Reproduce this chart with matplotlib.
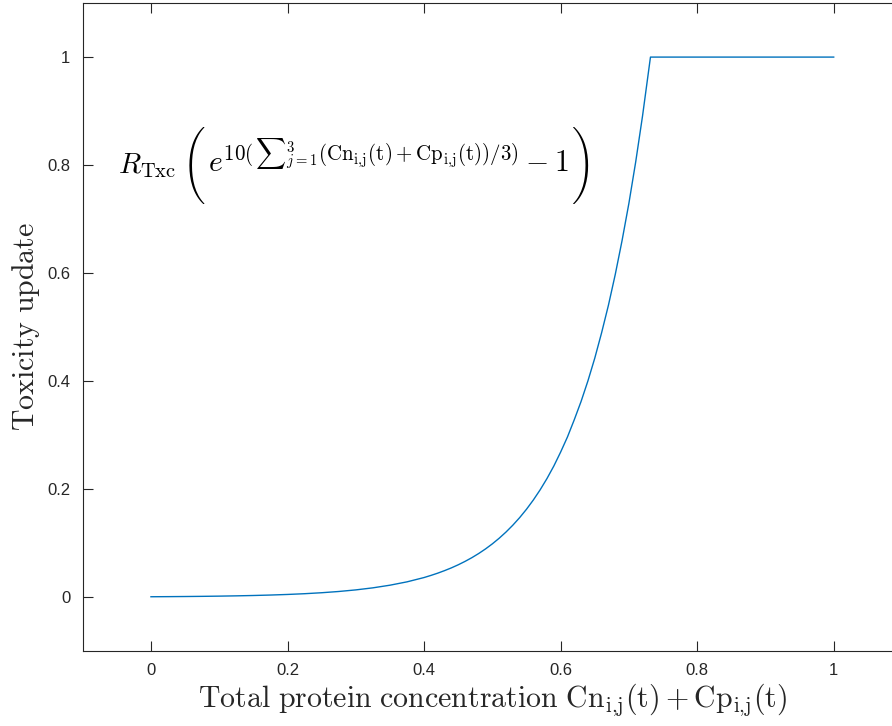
import os
import numpy as np
import matplotlib
matplotlib.use("Agg")
import matplotlib.pyplot as plt
from matplotlib.font_manager import FontProperties

# values
conc = [0.0, 0.025, 0.05, 0.075, 0.1, 0.125, 0.15, 0.175, 0.2, 0.225, 0.25,
        0.275, 0.3, 0.325, 0.35, 0.375, 0.4, 0.41, 0.42, 0.43, 0.44, 0.45,
        0.46, 0.47, 0.48, 0.49, 0.5, 0.51, 0.52, 0.53, 0.54, 0.55, 0.56, 0.57,
        0.58, 0.59, 0.6, 0.61, 0.62, 0.63, 0.64, 0.65, 0.66, 0.67, 0.68,
        0.69, 0.7, 0.71, 0.72, 0.7316, 1.0]
tox = [0.0, 0.00019, 0.00043, 0.00074, 0.00114, 0.00166, 0.00232, 0.00316,
       0.00425, 0.00564, 0.00744, 0.00974, 0.0127, 0.0165, 0.0214, 0.0276,
       0.0356, 0.0395, 0.0437, 0.0484, 0.0535, 0.0592, 0.0655, 0.0724,
       0.0801, 0.0886, 0.0980, 0.1084, 0.1199, 0.1326, 0.1466, 0.1621,
       0.1792, 0.1981, 0.2190, 0.2421, 0.268, 0.296, 0.328, 0.362, 0.400,
       0.442, 0.489, 0.540, 0.597, 0.660, 0.729, 0.806, 0.891, 1.0, 1.0]

xticks = [0, 0.2, 0.4, 0.6, 0.8, 1]
yticks = [0, 0.2, 0.4, 0.6, 0.8, 1]
xtick_labels = ["0", "0.2", "0.4", "0.6", "0.8", "1"]
ytick_labels = ["0", "0.2", "0.4", "0.6", "0.8", "1"]

plt.rcParams['mathtext.fontset'] = 'cm'
plt.rcParams['font.family'] = ['Liberation Sans', 'DejaVu Sans']

W, H = 892, 726
fig = plt.figure(figsize=(W / 100, H / 100), dpi=100)
ax = fig.add_axes([0.0927, 0.1037, 0.9185, 0.892])

ax.plot(conc, tox, color='#0072BD', lw=1.0)

ax.set_xlim(-0.1, 1.1)
ax.set_ylim(-0.1, 1.1)
ax.set_xticks(xticks, labels=xtick_labels)
ax.set_yticks(yticks, labels=ytick_labels)
ax.tick_params(direction='in', length=7, width=0.8, color='#262626',
               labelsize=12, labelcolor='#262626', top=True, right=True, pad=9)
for s in ax.spines.values():
    s.set_color('#262626')
    s.set_linewidth(0.8)

ax.set_xlabel(r'$\mathrm{Total\ protein\ concentration\ Cn_{i{,}j}(t)+Cp_{i{,}j}(t)}$',
              fontsize=21.5, labelpad=2, color='#262626')
ax.set_ylabel(r'$\mathrm{Toxicity\ update}$', fontsize=21.5, labelpad=4, color='#262626')

# formula annotation, built from pieces so the outer brackets can be tall
renderer = fig.canvas.get_renderer()
cmex = FontProperties(fname=os.path.join(matplotlib.get_data_path(), 'fonts', 'ttf', 'cmex10.ttf'),
                      size=22)
base_y = H - 173      # baseline of the formula, pixels from bottom
mid_y = H - 166       # vertical centre of the big brackets

def put(s, x, y, va='baseline', **kw):
    t = fig.text(x / W, y / H, s, va=va, ha='left', color='black', **kw)
    return t.get_window_extent(renderer).x1

x = put(r'$R_{\mathrm{Txc}}$', 118, base_y, fontsize=21)
x = put('\xb5', x + 7, mid_y, va='center', fontproperties=cmex)
x = put(r'$e^{10(\,{\sum}_{j=1}^{3}(\mathrm{Cn_{i{,}j}(t)+Cp_{i{,}j}(t)})/3)}-1$',
        x + 2, base_y, fontsize=21.5)
put('\xb6', x + 3, mid_y, va='center', fontproperties=cmex)

fig.savefig('out.png', dpi=100)
